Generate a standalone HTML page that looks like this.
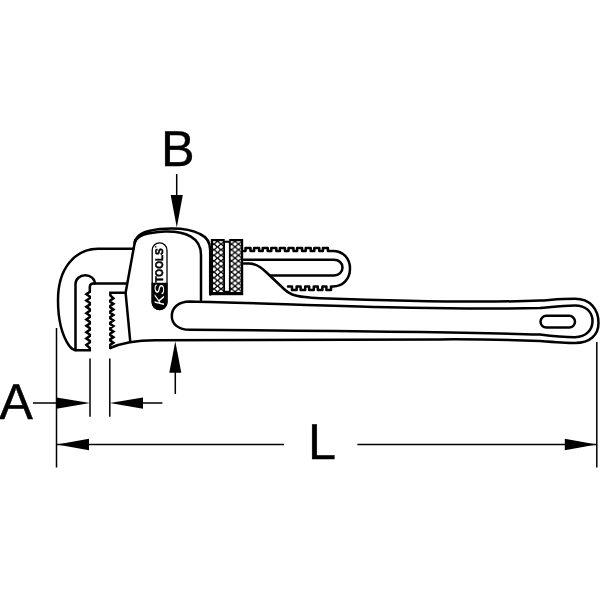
<!DOCTYPE html>
<html><head><meta charset="utf-8"><style>
html,body{margin:0;padding:0;background:#fff;width:600px;height:600px;overflow:hidden}
svg{display:block;will-change:transform}
text{font-family:"Liberation Sans",sans-serif}
</style></head><body>
<svg width="600" height="600" viewBox="0 0 600 600" text-rendering="geometricPrecision">
<defs>
<pattern id="kn" x="214" y="246.9" width="7.0" height="5.6" patternUnits="userSpaceOnUse">
<rect width="7.0" height="5.6" fill="#000"/>
<path d="M3.50 0.65 L5.90 2.80 L3.50 4.95 L1.10 2.80Z M0.00 -2.15 L2.40 0.00 L0.00 2.15 L-2.40 0.00Z M7.00 -2.15 L9.40 0.00 L7.00 2.15 L4.60 0.00Z M0.00 3.45 L2.40 5.60 L0.00 7.75 L-2.40 5.60Z M7.00 3.45 L9.40 5.60 L7.00 7.75 L4.60 5.60Z" fill="#fff"/>
</pattern>
<pattern id="kn2" x="231.5" y="246.9" width="7.0" height="5.6" patternUnits="userSpaceOnUse">
<rect width="7.0" height="5.6" fill="#000"/>
<path d="M3.50 0.65 L5.90 2.80 L3.50 4.95 L1.10 2.80Z M0.00 -2.15 L2.40 0.00 L0.00 2.15 L-2.40 0.00Z M7.00 -2.15 L9.40 0.00 L7.00 2.15 L4.60 0.00Z M0.00 3.45 L2.40 5.60 L0.00 7.75 L-2.40 5.60Z M7.00 3.45 L9.40 5.60 L7.00 7.75 L4.60 5.60Z" fill="#fff"/>
</pattern>
</defs>
<rect width="600" height="600" fill="#fff"/>
<g fill="none" stroke="#000" stroke-width="2.5" stroke-linejoin="round" stroke-linecap="round">
<path d="M133.5 248.7 L98 248.7 C75 249 58 268 58 300 C58 321 62.5 336 69 345.5 C71.5 349 73.5 350.3 77 350.3 L89.8 350.3 L89.8 348 L86.4 344.84 L89.8 342.47 L89.8 340.87 L86.4 338.51 L89.8 336.14 L89.8 334.54 L86.4 332.18 L89.8 329.81 L89.8 328.21 L86.4 325.85 L89.8 323.48 L89.8 321.88 L86.4 319.52 L89.8 317.15 L89.8 315.55 L86.4 313.19 L89.8 310.82 L89.8 309.22 L86.4 306.86 L89.8 304.5 L89.8 302.89 L86.4 300.53 L89.8 298.16 L89.8 296.56 L86.4 294.2 L89.8 291.83 L89.8 290.23 L89.8 287 C89.8 284.8 91 283.5 93.5 283.5 L126 283.5" stroke-linejoin="miter" stroke-miterlimit="2.2"/>
<path d="M75.5 350.3 L75.5 284 C75.5 279 80 275.2 85.3 275.2 C90.6 275.2 94.8 279 94.8 283.5"/>
<path d="M125.6 292.8 L110.35 292.8 L110.35 295.53 L113.4 298.3 L110.3 300.38 L110.3 301.77 L113.4 303.85 L110.3 305.93 L110.3 307.32 L113.4 309.4 L110.3 311.48 L110.3 312.88 L113.4 314.95 L110.3 317.02 L110.3 318.42 L113.4 320.5 L110.3 322.57 L110.3 323.97 L113.4 326.05 L110.3 328.12 L110.3 329.52 L113.4 331.6 L110.3 333.68 L110.3 335.07 L113.4 337.15 L110.3 339.23 L110.3 340.62 L113.4 342.7 L110.3 344.77 L110.3 346.17 L110.35 348" stroke-linejoin="miter" stroke-miterlimit="2.2"/>
<path d="M135.2 240 L125.6 292.7 L130.3 342"/>
<path d="M134.6 243.5 C135.8 235 143 231 160 229 C175 227.8 190 228.5 200 234 C206.5 237 210.2 242 210.2 250 L210.2 294.5"/>
<path d="M135 242 C138 235.5 146 232.5 165 231.5 C185 231 201 237 201 255 L201 300"/>
<path d="M110.35 348 C120 343.5 133 340.3 155 340.2 L440 339.4 C470 339.2 500 339.5 540 341 C555 342.2 565 343 575 343 C590 343 598.5 335 598.5 323 C598.5 309 590 298.8 575 298.8 C560 298.8 550 300 540 300.5 C480 303.2 400 301 320 298.2 C312 298 308 297.5 305 297 C294 296 289 294 284 289 L266 272 C260 266 255 263.5 249 263.5 L244 263.5"/>
<path d="M190 301.4 C178 301.4 171.8 308 171.8 316 C171.8 324 178 329.8 190 329.8 C350 331 460 332 540 334.5 C550 335.8 562 337.2 575 337.2 C586 337.2 592.5 330 592.5 321 C592.5 312 586 305.5 575 305.5 C562 305.5 550 307.2 540 308 C420 310.5 300 304 190 301.4 Z"/>
<rect x="540.5" y="315.8" width="34.5" height="11.7" rx="5.85"/>
<path d="M244 250.9 L245.5 250.9 L245.5 248 L250.5 248 L250.5 250.9 L254.1 250.9 L254.1 248 L259.1 248 L259.1 250.9 L262.7 250.9 L262.7 248 L267.7 248 L267.7 250.9 L271.3 250.9 L271.3 248 L276.3 248 L276.3 250.9 L279.9 250.9 L279.9 248 L284.9 248 L284.9 250.9 L288.5 250.9 L288.5 248 L293.5 248 L293.5 250.9 L297.1 250.9 L297.1 248 L302.1 248 L302.1 250.9 L305.7 250.9 L305.7 248 L310.7 248 L310.7 250.9 L314.3 250.9 L314.3 248 L319.3 248 L319.3 250.9 L322.9 250.9 L322.9 248 L327.9 248 L327.9 250.9 L333 250.9 C343 250.9 350 258.5 350 268.5 C350 279 343 286.5 333 286.5 L331 286.5 L331 290 L326.4 290 L326.4 286.5 L322.4 286.5 L322.4 290 L317.8 290 L317.8 286.5 L313.8 286.5 L313.8 290 L309.2 290 L309.2 286.5 L305.2 286.5 L305.2 290 L300.6 290 L300.6 286.5 L296.6 286.5 L296.6 290 L292 290 L292 286.5 L288 286.5"/>
<path d="M244 259.8 L334 259.8 C339 259.8 342.5 263 342.5 267.5 C342.5 272 339 275.5 334 275.5 L271 275.5"/>
</g>
<!-- nut -->
<rect x="210.8" y="239" width="32.4" height="56.2" fill="#000"/>
<rect x="213" y="241.2" width="10.2" height="50.8" fill="url(#kn)"/>
<rect x="230.6" y="241.2" width="10.4" height="50.8" fill="url(#kn2)"/>
<rect x="224.7" y="238" width="4.5" height="2.7" fill="#fff"/>
<rect x="225" y="242.8" width="3.9" height="48" fill="#fff"/>
<!-- logo -->
<rect x="152.2" y="242.9" width="14.8" height="66.6" rx="7.4" fill="#fff" stroke="#000" stroke-width="1.3"/>
<path d="M151.5 282.8 L167.5 282.8 L167.5 302.3 A8 8 0 0 1 151.5 302.3 Z" fill="#000"/>
<g transform="translate(163.3 282.6) rotate(-90)"><text x="0" y="0" font-size="11.2" font-weight="bold" stroke="#000" stroke-width="0.5" textLength="34.4" lengthAdjust="spacingAndGlyphs">TOOLS</text></g>
<rect x="155.2" y="246" width="1.1" height="1.6" fill="#000"/>
<g transform="translate(164.3 305.5) rotate(-90)"><text x="0" y="0" font-size="13.5" font-style="italic" fill="#fff" textLength="21.5" lengthAdjust="spacingAndGlyphs">KS</text></g>
<!-- dimensions -->
<g stroke="#000" stroke-width="1.5" fill="none">
<path d="M56.5 328 L56.5 467.5 M90 358.6 L90 416.8 M109.8 358.6 L109.8 416.8 M33 403 L56.5 403 M143 403 L162.4 403"/>
<path d="M56.5 444.5 L284 444.5 M357.4 444.5 L596.8 444.5 M596.8 342 L596.8 467.5"/>
<path d="M176.7 174 L176.7 196 M175.3 371 L175.3 394"/>
</g>
<g fill="#000">
<path d="M56.5 397.4 L90 403 L56.5 408.8 Z"/>
<path d="M143 397.4 L109.8 403 L143 408.8 Z"/>
<path d="M89 438.7 L57 444.5 L89 450.3 Z"/>
<path d="M564.8 438.7 L596.5 444.5 L564.8 450.3 Z"/>
<path d="M170.7 195.1 L182.8 195.1 L176.8 227.5 Z"/>
<path d="M175.3 341.2 L169.3 372.8 L181.3 372.8 Z"/>
</g>
<text x="-0.8" y="419.2" font-size="50.4" fill="#000" stroke="#000" stroke-width="0.4">A</text>
<text x="161.1" y="166.3" font-size="50.4" fill="#000" stroke="#000" stroke-width="0.4">B</text>
<text x="308" y="459" font-size="50.4" fill="#000" stroke="#000" stroke-width="0.4">L</text>
</svg>
</body></html>
